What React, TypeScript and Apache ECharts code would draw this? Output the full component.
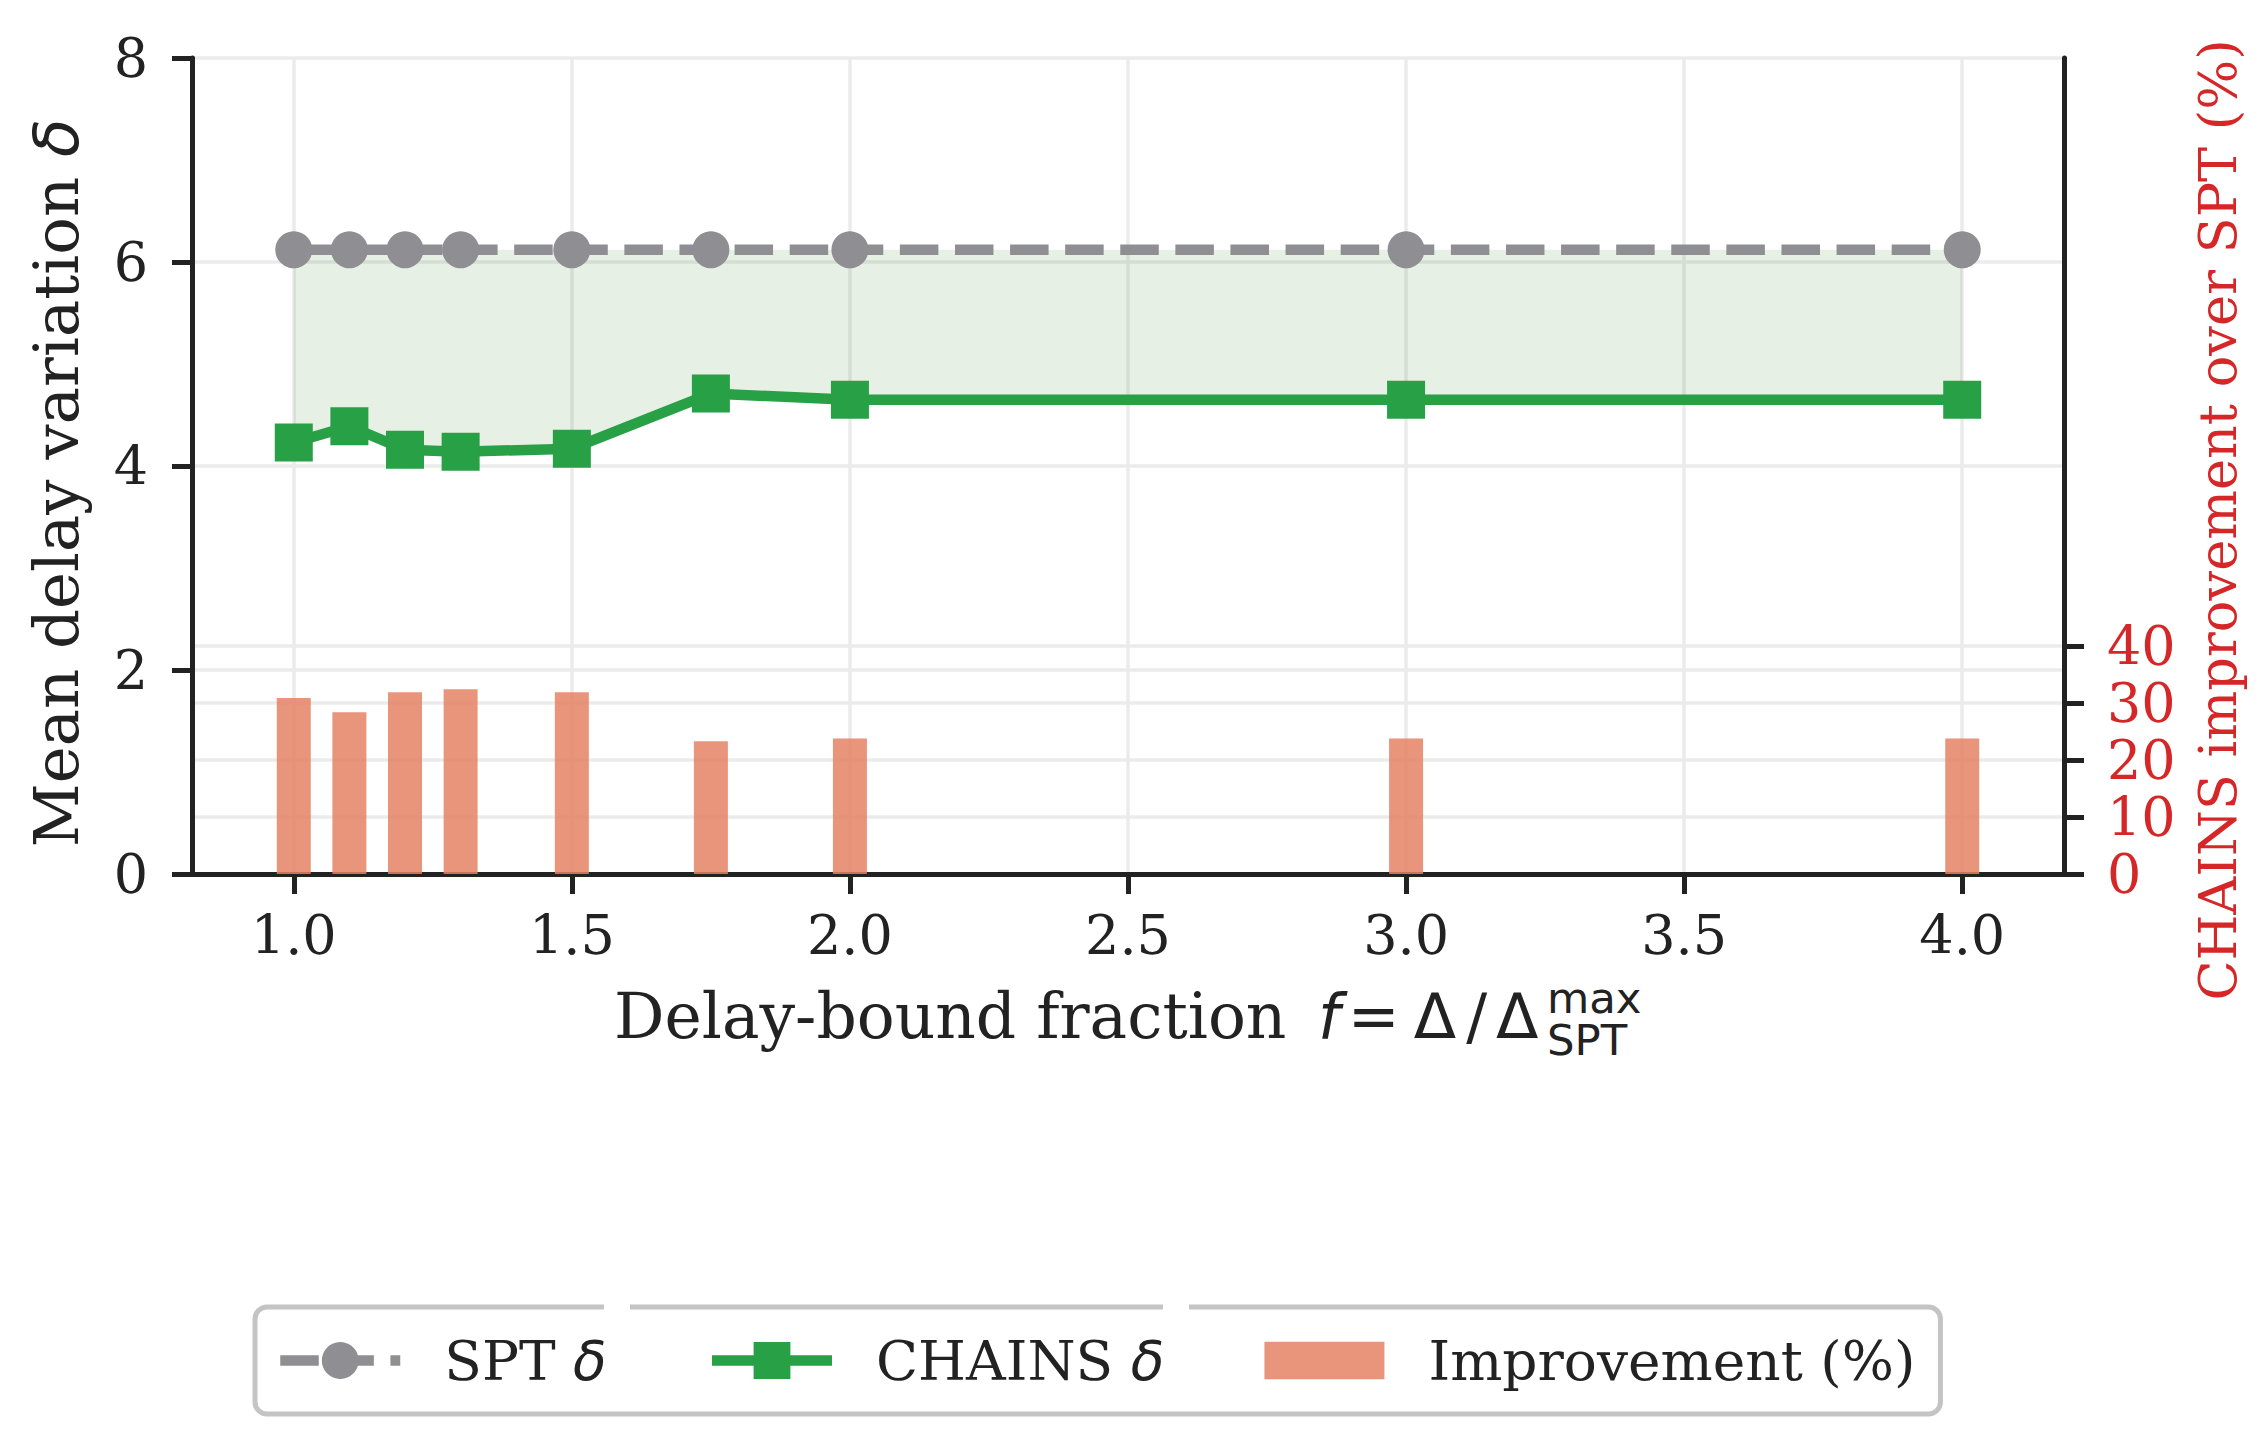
import React, { useEffect, useRef } from "react";
import * as echarts from "echarts";

// ---- data ----
const fractions = [1.0, 1.1, 1.2, 1.3, 1.5, 1.75, 2.0, 3.0, 4.0];
const sptDelta = [6.12, 6.12, 6.12, 6.12, 6.12, 6.12, 6.12, 6.12, 6.12];
const chainsDelta = [4.23, 4.39, 4.16, 4.14, 4.17, 4.71, 4.65, 4.65, 4.65];
const improvementPct = [30.9, 28.4, 31.9, 32.4, 31.9, 23.3, 23.8, 23.8, 23.8];
const xTicks = [1.0, 1.5, 2.0, 2.5, 3.0, 3.5, 4.0];
const rightTicks = [0, 10, 20, 30, 40];

const SERIF = "DejaVu Serif";
const SANS = "DejaVu Sans";
const INK = "#222222";
const RED = "#d62728";
const GRID = "#ebebeb";
const GRAY = "#8e8e93";
const GREEN = "#27a046";

export default function App() {
  const ref = useRef<HTMLDivElement>(null);

  useEffect(() => {
    if (!ref.current) return;
    const chart = echarts.init(ref.current, null, { renderer: "svg" });

    const axisLine = { show: true, onZero: false, lineStyle: { color: INK, width: 5 } };
    const axisTickBase = { show: true, length: 20, lineStyle: { color: INK, width: 5 } };
    const splitLine = { show: true, lineStyle: { color: GRID, width: 3.5 } };

    const option: any = {
      animation: false,
      backgroundColor: "#ffffff",
      textStyle: { fontFamily: SERIF },
      grid: { left: 192, right: 202, top: 58, bottom: 570, outerBoundsMode: "none", containLabel: false },
      xAxis: {
        type: "value",
        min: 0.817,
        max: 4.183,
        axisLine,
        axisTick: { ...axisTickBase, customValues: xTicks },
        axisLabel: {
          customValues: xTicks,
          formatter: (v: number) => v.toFixed(1),
          fontSize: 54,
          fontFamily: SERIF,
          color: INK,
          margin: 34,
        },
        splitLine,
      },
      yAxis: [
        {
          type: "value",
          position: "left",
          min: 0,
          max: 8,
          interval: 2,
          axisLine,
          axisTick: axisTickBase,
          axisLabel: { fontSize: 54, fontFamily: SERIF, color: INK, margin: 44 },
          splitLine,
        },
        {
          type: "value",
          position: "right",
          min: 0,
          max: 143.2,
          interval: 10,
          axisLine,
          axisTick: { ...axisTickBase, customValues: rightTicks },
          axisLabel: {
            customValues: rightTicks,
            fontSize: 54,
            fontFamily: SERIF,
            color: RED,
            margin: 43,
          },
          splitLine,
        },
      ],
      legend: {
        data: [
          { name: "SPT δ" },
          { name: "CHAINS δ" },
          { name: "Improvement (%)", icon: "path://M0,0M0,4L122,4L122,42L0,42ZM0,46" },
        ],
        orient: "horizontal",
        left: 255,
        top: 1307,
        itemWidth: 120,
        itemHeight: 46,
        itemGap: 100,
        padding: [26, 25, 26, 20],
        borderColor: "#c4c4c4",
        borderWidth: 5,
        borderRadius: 12,
        backgroundColor: "#ffffff",
        lineStyle: { width: 10.5 },
        formatter: (name: string) => {
          if (name.endsWith("δ")) return "{g| }{n|" + name.slice(0, -1) + "}{i|δ}";
          return "{g| }{n|" + name + "}";
        },
        textStyle: {
          fontFamily: SERIF,
          fontSize: 55,
          color: INK,
          rich: {
            g: { width: 39, fontSize: 55 },
            n: { fontFamily: SERIF, fontSize: 55, color: INK },
            i: { fontFamily: SANS, fontStyle: "italic", fontSize: 55, color: INK },
          },
        },
      },
      series: [
        {
          type: "custom",
          name: "gap",
          xAxisIndex: 0,
          yAxisIndex: 0,
          silent: true,
          z: 1,
          clip: false,
          data: fractions.map((x, i) => [x, chainsDelta[i], sptDelta[i]]),
          encode: { x: 0, y: [1, 2] },
          renderItem: (params: any, api: any) => {
            if (params.dataIndex !== 0) return { type: "group", children: [] };
            const top = fractions.map((x, i) => api.coord([x, sptDelta[i]]));
            const bottom = fractions.map((x, i) => api.coord([x, chainsDelta[i]])).reverse();
            return {
              type: "polygon",
              shape: { points: top.concat(bottom) },
              style: { fill: "rgba(60,130,30,0.12)", stroke: "none" },
            };
          },
        },
        {
          type: "bar",
          name: "Improvement (%)",
          xAxisIndex: 0,
          yAxisIndex: 1,
          barWidth: 34,
          z: 2,
          data: fractions.map((x, i) => [x, improvementPct[i]]),
          itemStyle: { color: "#e48265", opacity: 0.85 },
        },
        {
          type: "line",
          name: "SPT δ",
          xAxisIndex: 0,
          yAxisIndex: 0,
          z: 3,
          data: fractions.map((x, i) => [x, sptDelta[i]]),
          symbol: "circle",
          symbolSize: 37,
          showAllSymbol: true,
          lineStyle: { color: GRAY, width: 10.5, type: [38.5, 16.6], cap: "butt" },
          itemStyle: { color: GRAY },
        },
        {
          type: "line",
          name: "CHAINS δ",
          xAxisIndex: 0,
          yAxisIndex: 0,
          z: 4,
          data: fractions.map((x, i) => [x, chainsDelta[i]]),
          symbol: "rect",
          symbolSize: 38,
          showAllSymbol: true,
          lineStyle: { color: GREEN, width: 10.5 },
          itemStyle: { color: GREEN },
        },
      ],
      graphic: [
        {
          type: "text",
          x: 56,
          y: 483,
          rotation: Math.PI / 2,
          style: {
            text: "{n|Mean delay variation }{i|δ}",
            x: 0,
            y: 0,
            align: "center",
            verticalAlign: "middle",
            rich: {
              n: { fontFamily: SERIF, fontSize: 62.5, fill: INK },
              i: { fontFamily: SANS, fontStyle: "italic", fontSize: 62.5, fill: INK },
            },
          },
        },
        {
          type: "text",
          x: 2217,
          y: 520,
          rotation: Math.PI / 2,
          style: {
            text: "CHAINS improvement over SPT (%)",
            x: 0,
            y: 0,
            align: "center",
            verticalAlign: "middle",
            fontFamily: SERIF,
            fontSize: 52.5,
            fill: RED,
          },
        },
        {
          type: "text",
          x: 614,
          y: 1016,
          style: {
            text: "Delay-bound fraction",
            x: 0,
            y: 0,
            align: "left",
            verticalAlign: "middle",
            fontFamily: SERIF,
            fontSize: 63,
            fill: INK,
          },
        },
        {
          type: "text",
          x: 1318,
          y: 1016,
          style: {
            text: "{f|f}{a| }{m|=}{b| }{m|Δ}{c| }{m|/}{d| }{m|Δ}",
            x: 0,
            y: 0,
            align: "left",
            verticalAlign: "middle",
            lineHeight: 44,
            rich: {
              f: { fontFamily: SANS, fontStyle: "italic", fontSize: 62, fill: INK, lineHeight: 44 },
              m: { fontFamily: SANS, fontSize: 62, fill: INK, lineHeight: 44 },
              a: { width: 8, fontSize: 62, lineHeight: 44 },
              b: { width: 14, fontSize: 62, lineHeight: 44 },
              c: { width: 10, fontSize: 62, lineHeight: 44 },
              d: { width: 9, fontSize: 62, lineHeight: 44 },
            },
          },
        },
        {
          type: "text",
          x: 1547,
          y: 1019,
          style: {
            text: "{s|max}\n{s|SPT}",
            x: 0,
            y: 0,
            align: "left",
            verticalAlign: "middle",
            rich: {
              s: { fontFamily: SANS, fontSize: 43.4, lineHeight: 42, fill: INK },
            },
          },
        },
        // small breaks in the legend frame's top edge, as in the reference
        { type: "rect", z: 100, shape: { x: 604, y: 1302, width: 26, height: 12 }, style: { fill: "#ffffff" } },
        { type: "rect", z: 100, shape: { x: 1163, y: 1302, width: 26, height: 12 }, style: { fill: "#ffffff" } },
      ],
    };

    chart.setOption(option);
    return () => chart.dispose();
  }, []);

  return (
    <div
      ref={ref}
      style={{ position: "fixed", left: 0, top: 0, width: 2266, height: 1444, background: "#fff" }}
    />
  );
}
